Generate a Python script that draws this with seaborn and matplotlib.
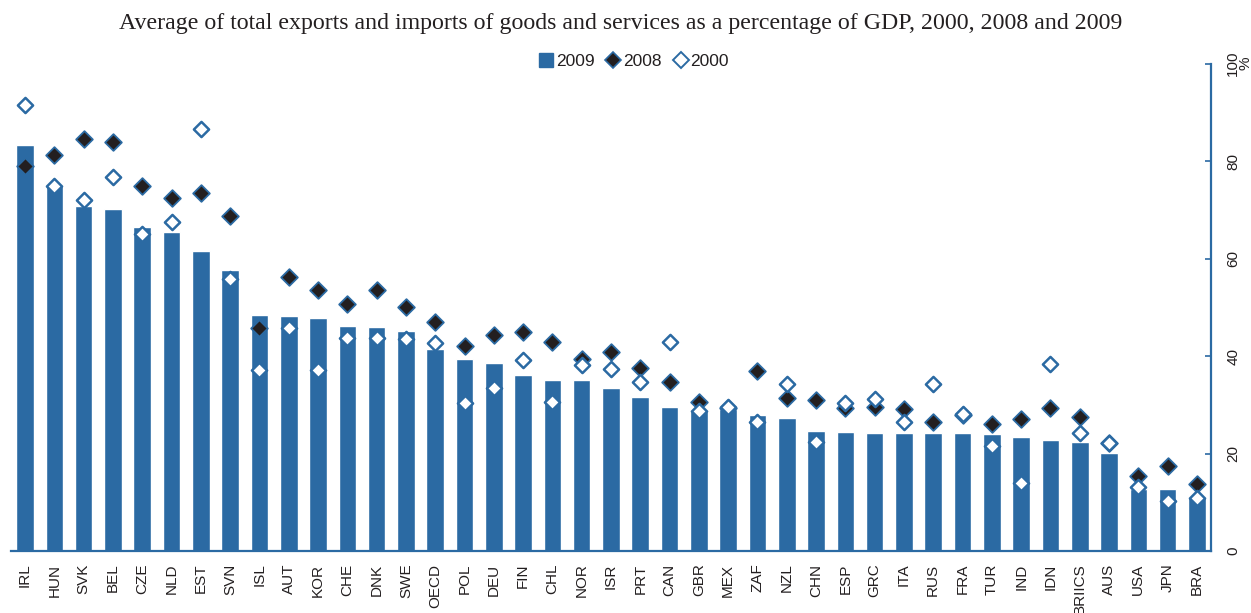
import numpy as np
import pandas as pd
import matplotlib
matplotlib.use("Agg")
import matplotlib.pyplot as plt
from matplotlib.lines import Line2D
import seaborn as sns

# Average of exports and imports of goods and services, % of GDP
countries = ["IRL", "HUN", "SVK", "BEL", "CZE", "NLD", "EST", "SVN", "ISL", "AUT",
             "KOR", "CHE", "DNK", "SWE", "OECD", "POL", "DEU", "FIN", "CHL", "NOR",
             "ISR", "PRT", "CAN", "GBR", "MEX", "ZAF", "NZL", "CHN", "ESP", "GRC",
             "ITA", "RUS", "FRA", "TUR", "IND", "IDN", "BRIICS", "AUS", "USA", "JPN", "BRA"]
values_2009 = [83.2, 74.9, 70.8, 70.2, 66.5, 65.5, 61.6, 57.7, 48.5, 48.3,
               47.8, 46.2, 46.0, 45.2, 41.4, 39.4, 38.5, 36.1, 35.0, 35.0,
               33.4, 31.6, 29.5, 28.7, 29.2, 27.9, 27.3, 24.6, 24.4, 24.2,
               24.2, 24.2, 24.2, 24.0, 23.4, 22.8, 22.4, 20.1, 12.7, 12.7, 11.1]
values_2008 = [78.9, 81.3, 84.6, 83.8, 74.8, 72.5, 73.5, 68.8, 45.8, 56.3,
               53.6, 50.7, 53.6, 50.1, 46.9, 42.0, 44.3, 45.0, 42.9, 39.3,
               40.9, 37.5, 34.6, 30.6, 29.4, 37.0, 31.4, 31.0, 29.4, 29.6,
               29.2, 26.5, 28.0, 26.1, 27.1, 29.3, 27.5, 22.2, 15.4, 17.5, 13.8]
values_2000 = [91.5, 74.9, 71.9, 76.8, 65.1, 67.4, 86.5, 55.9, 37.2, 45.8,
               37.2, 43.7, 43.7, 43.5, 42.7, 30.4, 33.4, 39.2, 30.6, 38.1,
               37.4, 34.7, 42.8, 28.7, 29.6, 26.5, 34.3, 22.4, 30.4, 31.2,
               26.5, 34.2, 28.2, 21.6, 14.0, 38.4, 24.2, 22.1, 13.1, 10.3, 10.9]
y_ticks = [0, 20, 40, 60, 80, 100]

BLUE = "#2B6AA3"
DARK = "#231F20"

sns.set_style("white")
plt.rcParams["font.family"] = ["Liberation Sans", "DejaVu Sans"]

df = pd.DataFrame({"country": countries, "y2009": values_2009,
                   "y2008": values_2008, "y2000": values_2000})
df["pos"] = np.arange(len(df))

fig = plt.figure(figsize=(12.51, 6.13), dpi=100)
ax = fig.add_axes([0.0088, 0.1011, 0.9592, 0.7953])

sns.barplot(data=df, x="country", y="y2009", color=BLUE, saturation=1,
            width=0.6, ax=ax, zorder=2)
ax.scatter(df["pos"], df["y2008"], marker="D", s=72, facecolor=DARK,
           edgecolor=BLUE, linewidth=1.3, zorder=3)
ax.scatter(df["pos"], df["y2000"], marker="D", s=60, facecolor="white",
           edgecolor=BLUE, linewidth=1.8, zorder=4)

ax.set_xlim(-0.48, len(countries) - 1 + 0.48)
ax.set_ylim(0, 100)
ax.set_xlabel("")
ax.set_ylabel("")

# value axis on the right
ax.yaxis.tick_right()
ax.set_yticks(y_ticks)
ax.set_yticklabels([str(t) for t in y_ticks], rotation=90, va="center",
                   fontsize=11, color=DARK)
ax.tick_params(axis="y", direction="in", length=4, width=1.2, color=BLUE,
               pad=11, right=True, left=False)
ax.tick_params(axis="x", length=0, pad=9)
for lab in ax.get_xticklabels():
    lab.set_rotation(90)
    lab.set_fontsize(11)
    lab.set_color(DARK)
    lab.set_va("top")

for side in ["top", "left"]:
    ax.spines[side].set_visible(False)
for side in ["right", "bottom"]:
    ax.spines[side].set_visible(True)
    ax.spines[side].set_color(BLUE)
    ax.spines[side].set_linewidth(1.6)
    ax.spines[side].set_zorder(5)

ax.text(1.029, 1.0, "%", transform=ax.transAxes, rotation=90, ha="center",
        va="center", fontsize=11, color=DARK)

fig.text(0.496, 0.962, "Average of total exports and imports of goods and services "
         "as a percentage of GDP, 2000, 2008 and 2009",
         ha="center", va="center", fontsize=17.2, color=DARK,
         family="Liberation Serif")

handles = [
    Line2D([], [], marker="s", linestyle="none", markersize=10,
           markerfacecolor=BLUE, markeredgecolor=BLUE, label="2009"),
    Line2D([], [], marker="D", linestyle="none", markersize=8,
           markerfacecolor=DARK, markeredgecolor=BLUE, markeredgewidth=1.2,
           label="2008"),
    Line2D([], [], marker="D", linestyle="none", markersize=8,
           markerfacecolor="white", markeredgecolor=BLUE, markeredgewidth=1.4,
           label="2000"),
]
fig.legend(handles=handles, loc="center", bbox_to_anchor=(0.506, 0.899),
           ncol=3, frameon=False, fontsize=12.5, handletextpad=0.05,
           columnspacing=0.6, handlelength=1.0, labelcolor=DARK)

fig.savefig("out.png", dpi=100, facecolor="white")
